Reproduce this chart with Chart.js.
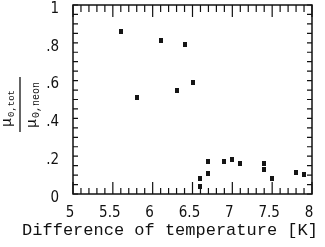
<!DOCTYPE html>
<html lang="en">
    <head>
        <meta charset="UTF-8" />
        <title>mu ratio vs temperature difference</title>
        <script src="https://cdn.jsdelivr.net/npm/chart.js"></script>
        <style>
            html, body { margin: 0; padding: 0; background: #fff; }
        </style>
    </head>
    <body>
        <canvas id="grafico" width="325" height="247"></canvas>

        <script>
            // Datos
            const tempDiff = [5.6, 5.8, 6.1, 6.3, 6.4, 6.5, 6.6, 6.6, 6.7, 6.7, 6.9, 7.0, 7.1, 7.4, 7.4, 7.5, 7.8, 7.9];
            const muRatio = [0.86, 0.51, 0.81, 0.55, 0.79, 0.59, 0.08, 0.04, 0.17, 0.11, 0.17, 0.18, 0.16, 0.16, 0.13, 0.08, 0.115, 0.105];
            const xRange = [5, 8];
            const yRange = [0, 1];
            const xTitle = "Difference of temperature [K]";
            const yTitleTop = ["\u03bc", "0,tot"];
            const yTitleBottom = ["\u03bc", "0,neon"];

            const points = tempDiff.map((t, i) => ({ x: t, y: muRatio[i] }));

            // marcador rectangular pequeño
            const marca = document.createElement("canvas");
            marca.width = 4;
            marca.height = 5;
            const mctx = marca.getContext("2d");
            mctx.fillStyle = "#151515";
            mctx.fillRect(0, 0, 4, 5);

            const fuenteTicks = "'Liberation Sans Narrow', 'DejaVu Sans Condensed', sans-serif";

            // marco y marcas hacia dentro en los cuatro lados, más los títulos
            const marcoPlugin = {
                id: "marco",
                afterDraw(chart) {
                    const ctx = chart.ctx;
                    const a = chart.chartArea;
                    const sx = chart.scales.x;
                    const sy = chart.scales.y;
                    ctx.save();
                    ctx.strokeStyle = "#111";
                    ctx.lineWidth = 1.5;
                    ctx.strokeRect(a.left, a.top, a.right - a.left, a.bottom - a.top);
                    ctx.lineWidth = 1.2;
                    ctx.beginPath();
                    for (let i = 0; i <= 30; i++) {
                        const px = sx.getPixelForValue(xRange[0] + i / 10);
                        const len = i % 5 === 0 ? 12 : 6;
                        ctx.moveTo(px, a.bottom);
                        ctx.lineTo(px, a.bottom - len);
                        ctx.moveTo(px, a.top);
                        ctx.lineTo(px, a.top + (i % 5 === 0 ? 12 : 7));
                    }
                    for (let i = 0; i <= 20; i++) {
                        const py = sy.getPixelForValue(i / 20);
                        ctx.moveTo(a.left, py);
                        ctx.lineTo(a.left + 5, py);
                        ctx.moveTo(a.right, py);
                        ctx.lineTo(a.right - 5, py);
                    }
                    ctx.stroke();

                    // título del eje x
                    ctx.fillStyle = "#111";
                    ctx.font = "17px 'Liberation Mono', monospace";
                    ctx.textAlign = "center";
                    ctx.textBaseline = "alphabetic";
                    ctx.fillText(xTitle, 170, 235);

                    // título del eje y: fracción girada
                    ctx.translate(20, a.top + 100);
                    ctx.rotate(-Math.PI / 2);
                    ctx.textAlign = "left";
                    ctx.font = "15px 'Liberation Mono', monospace";
                    ctx.fillText(yTitleTop[0], -22, -9);
                    ctx.fillText(yTitleBottom[0], -23, 16);
                    ctx.font = "9px 'Liberation Mono', monospace";
                    ctx.fillText(yTitleTop[1], -12, -6);
                    ctx.font = "10px 'Liberation Mono', monospace";
                    ctx.fillText(yTitleBottom[1], -13, 19);
                    ctx.lineWidth = 1.3;
                    ctx.beginPath();
                    ctx.moveTo(-27, 0);
                    ctx.lineTo(28, 0);
                    ctx.stroke();
                    ctx.restore();
                },
            };

            const ctx = document.getElementById("grafico").getContext("2d");
            const chart = new Chart(ctx, {
                type: "scatter",
                data: {
                    datasets: [
                        {
                            data: points,
                            pointStyle: marca,
                            pointRadius: 3,
                            pointHoverRadius: 3,
                        },
                    ],
                },
                options: {
                    responsive: false,
                    animation: false,
                    events: [],
                    layout: { padding: { left: 0, right: 13, top: 5, bottom: 0 } },
                    plugins: {
                        legend: { display: false },
                        tooltip: { enabled: false },
                    },
                    scales: {
                        x: {
                            type: "linear",
                            min: xRange[0],
                            max: xRange[1],
                            grid: { display: false, drawTicks: false },
                            border: { display: false },
                            afterFit(scale) {
                                scale.height = 53;
                                scale.paddingLeft = 0;
                                scale.paddingRight = 0;
                            },
                            ticks: {
                                stepSize: 0.5,
                                padding: 10,
                                labelOffset: -3,
                                maxRotation: 0,
                                color: "#111",
                                font: { family: fuenteTicks, size: 15 },
                                callback: (v) => String(v),
                            },
                        },
                        y: {
                            type: "linear",
                            min: yRange[0],
                            max: yRange[1],
                            grid: { display: false, drawTicks: false },
                            border: { display: false },
                            afterFit(scale) {
                                scale.width = 73;
                                scale.paddingTop = 0;
                                scale.paddingBottom = 0;
                            },
                            ticks: {
                                stepSize: 0.2,
                                padding: 14,
                                labelOffset: 4,
                                color: "#111",
                                font: { family: fuenteTicks, size: 15 },
                                callback: (v) => (v === 0 || v === 1 ? String(v) : v.toFixed(1).replace(/^0/, "")),
                            },
                        },
                    },
                },
                plugins: [marcoPlugin],
            });
        </script>
    </body>
</html>
